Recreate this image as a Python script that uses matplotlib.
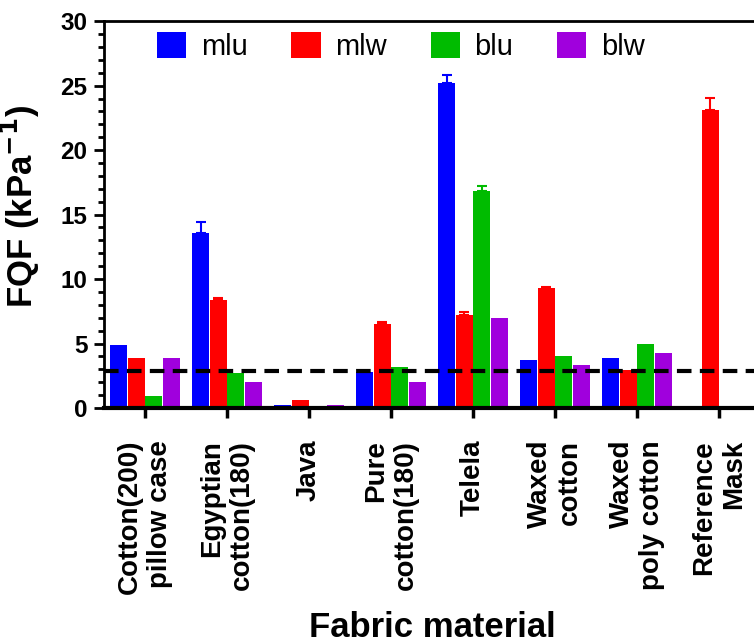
import numpy as np
import matplotlib
matplotlib.use("Agg")
import matplotlib.pyplot as plt
from matplotlib.ticker import MultipleLocator

plt.rcParams['font.family'] = ['Liberation Sans', 'DejaVu Sans']

# fabric names (two-line tick labels)
fabrics = ["Cotton(200)\npillow case", "Egyptian\ncotton(180)", "Java",
           "Pure\ncotton(180)", "Telela", "Waxed\ncotton",
           "Waxed\npoly cotton", "Reference\nMask"]
series = ["mlu", "mlw", "blu", "blw"]
colors = ["#0000ff", "#ff0000", "#00bb00", "#a000dd"]

# FQF values (kPa^-1)
mlu = [4.9, 13.6, 0.25, 2.8, 25.2, 3.7, 3.9, 0.0]
mlw = [3.9, 8.35, 0.62, 6.5, 7.25, 9.3, 2.95, 23.1]
blu = [0.9, 2.7, 0.15, 3.2, 16.85, 4.0, 4.95, 0.0]
blw = [3.9, 2.05, 0.2, 2.0, 7.0, 3.3, 4.25, 0.0]

# upper error bars
mlu_err = [0.0, 0.8, 0.0, 0.0, 0.6, 0.0, 0.0, 0.0]
mlw_err = [0.0, 0.2, 0.0, 0.15, 0.2, 0.1, 0.0, 0.95]
blu_err = [0.0, 0.0, 0.0, 0.0, 0.35, 0.0, 0.0, 0.0]
blw_err = [0.0, 0.0, 0.0, 0.0, 0.0, 0.0, 0.0, 0.0]

threshold = 2.9

values = [mlu, mlw, blu, blw]
errors = [mlu_err, mlw_err, blu_err, blw_err]

fig = plt.figure(figsize=(7.54, 6.43), dpi=100)
ax = fig.add_axes([0.138, 0.3655, 0.870, 0.6015])

x = np.arange(len(fabrics))
step = 0.215
w = 0.205
handles = []
for i, (vals, errs) in enumerate(zip(values, errors)):
    pos = x + (i - 1.5) * step
    b = ax.bar(pos, vals, w, color=colors[i], label=series[i], zorder=2)
    handles.append(b)
    errs = np.array(errs)
    m = errs > 0
    if m.any():
        ax.errorbar(pos[m], np.array(vals)[m],
                    yerr=[np.zeros(m.sum()), errs[m]],
                    fmt='none', ecolor=colors[i], elinewidth=1.5,
                    capsize=3.5, capthick=1.5, zorder=1)

ax.axhline(threshold, color='black', lw=3, ls=(0, (3.5, 2)), zorder=3)

ax.set_xlim(-0.5, 7.5)
ax.set_ylim(0, 30)
ax.yaxis.set_major_locator(MultipleLocator(5))
ax.yaxis.set_minor_locator(MultipleLocator(1))
ax.set_xticks(x)
ax.set_xticklabels(fabrics, rotation=90, ha='center', va='top',
                   multialignment='right', fontsize=20, fontweight='bold')
for lab in ax.get_yticklabels():
    lab.set_fontweight('bold')
ax.tick_params(axis='y', which='major', labelsize=17.5, length=7, width=2, pad=5)
ax.tick_params(axis='y', which='minor', length=4, width=2)
ax.tick_params(axis='x', which='major', length=7, width=2.5, pad=16)

ax.spines['left'].set_linewidth(2)
ax.spines['bottom'].set_linewidth(3)
ax.spines['top'].set_linewidth(2)
ax.spines['right'].set_linewidth(2)

ax.set_ylabel("FQF (kPa$^{\\mathbf{-1}}$)", fontsize=25, fontweight='bold')
ax.yaxis.set_label_coords(-0.095, 0.52)
ax.set_xlabel("Fabric material", fontsize=25, fontweight='bold')
ax.xaxis.set_label_coords(0.5, -0.525)

ax.legend(handles=handles, labels=series, ncol=4, frameon=False,
          loc='center left', bbox_to_anchor=(0.081, 0.935),
          borderaxespad=0, borderpad=0, fontsize=21,
          handlelength=1.0, handleheight=1.0, handletextpad=0.5,
          columnspacing=1.5)

fig.savefig("out.png", dpi=100)
